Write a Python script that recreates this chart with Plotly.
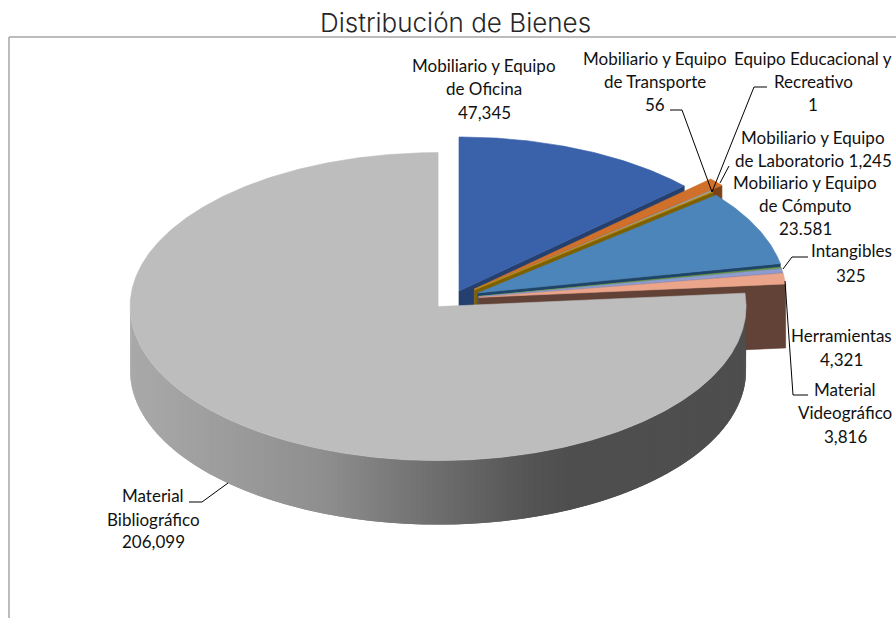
import numpy as np
import plotly.graph_objects as go

# ---- data ----
categories = ["Mobiliario y Equipo de Oficina", "Mobiliario y Equipo de Laboratorio",
              "Mobiliario y Equipo de Transporte", "Equipo Educacional y Recreativo",
              "Mobiliario y Equipo de Cómputo", "Intangibles", "Herramientas",
              "Material Videográfico", "Material Bibliográfico"]
values = [47345, 1245, 56, 1, 23581, 325, 4321, 3816, 206099]
top_colors = ["#3a62aa", "#d0702a", "#a5a5a5", "#bf9000", "#4c85ba", "#6a9a45", "#8e9bd0", "#eba58a", "#bdbdbd"]
face_colors = ["#25406f", "#7f4217", "#7f7f7f", "#7f6000", "#1f4468", "#44682d", "#5f6a96", "#624237", "#7f7f7f"]
explode = [17.5, 29.5, 29.5, 29.5, 28.7, 27, 27, 27, 20.6]
radius_scale = [1, 1.05, 1, 1, 1, 1, 1, 1, 1]

# view-angle calibration of the tilted pie (data angle -> drawn angle)
warp_data = [0, 59.43, 60.99, 61.06, 90.67, 91.08, 96.5, 101.29, 360]
warp_view = [0, 47, 50, 50.6, 79, 79.5, 81, 85, 360]

title = "Distribución de Bienes"
label_lines = [
    ("Mobiliario y Equipo", 484, 65), ("de Oficina", 484, 88), ("47,345", 484, 112),
    ("Mobiliario y Equipo", 655, 58), ("de Transporte", 655, 81), ("56", 655, 104),
    ("Equipo Educacional y", 813, 58), ("Recreativo", 813, 81), ("1", 813, 104),
    ("Mobiliario y Equipo", 813, 137), ("de Laboratorio 1,245", 813, 160),
    ("Mobiliario y Equipo", 805, 182), ("de Cómputo", 805, 205), ("23.581", 805, 228),
    ("Intangibles", 851, 250), ("325", 851, 275),
    ("Herramientas", 841, 335), ("4,321", 841, 359),
    ("Material", 845, 389), ("Videográfico", 845, 412), ("3,816", 845, 436),
    ("Material", 153, 495), ("Bibliográfico", 153, 519), ("206,099", 153, 541),
]
leaders = [
    ([670, 682, 712], [110, 110, 192]),
    ([767, 754, 712], [87, 87, 192]),
    ([729, 720], [166, 183]),
    ([808, 792, 783], [257, 257, 269]),
    ([808, 793, 785], [395, 395, 281]),
    ([189, 202, 228], [502, 502, 483]),
]

# ---- pie geometry ----
CX, CY, RX, RY, DEPTH = 452, 299, 308, 154, 64
cum = np.concatenate([[0], np.cumsum(values)]) / sum(values) * 360
view = np.interp(cum, warp_data, warp_view)


def ell(t, ax, ay, k=1.0):
    r = np.radians(t)
    return ax + k * RX * np.sin(r), ay - k * RY * np.cos(r)


fig = go.Figure()


def poly(xs, ys, color, lw=0.6):
    fig.add_trace(go.Scatter(x=list(xs), y=list(ys), mode="lines", fill="toself", fillcolor=color,
                             line=dict(color=color, width=lw), hoverinfo="skip", showlegend=False))


def wall_color(x):
    v = int(np.interp(x, [130, 324, 405, 528, 569, 750], [170, 143, 119, 85, 79, 78]))
    return f"rgb({v},{v},{v})"


for i in range(len(values)):
    a0, a1 = view[i], view[i + 1]
    mid = np.radians((a0 + a1) / 2)
    ax = CX + explode[i] * np.sin(mid)
    ay = CY - explode[i] * 0.5 * np.cos(mid)
    k = radius_scale[i]
    ts = np.linspace(a0, a1, max(2, int((a1 - a0) * 2) + 2))
    ex, ey = ell(ts, ax, ay, k)
    if i == len(values) - 1:
        # outer wall, shaded; each band overlaps the last so no seams show
        for t0 in np.arange(a0, 270, 1.0):
            seg = np.linspace(t0, min(t0 + 2.0, 270), 5)
            x0, y0 = ell(seg, ax, ay)
            poly(np.concatenate([x0, x0[::-1], x0[:1]]),
                 np.concatenate([y0, y0[::-1] + DEPTH, y0[:1]]),
                 wall_color(x0[1]), lw=0)
    else:
        # radial end face
        xe, ye = ell(a1, ax, ay, k)
        poly([ax, xe, xe, ax, ax], [ay, ye, ye + DEPTH, ay + DEPTH, ay], face_colors[i])
    poly(np.concatenate([[ax], ex, [ax]]), np.concatenate([[ay], ey, [ay]]), top_colors[i])

for lx, ly in leaders:
    fig.add_trace(go.Scatter(x=lx, y=ly, mode="lines", line=dict(color="#000000", width=1),
                             hoverinfo="skip", showlegend=False))

annotations = [dict(x=x, y=y, xref="x", yref="y", text=t, showarrow=False, xanchor="center", yanchor="middle",
                    font=dict(family="Lato", size=17, color="#111111")) for t, x, y in label_lines]
annotations.append(dict(x=455, y=22, xref="x", yref="y", text=title, showarrow=False, xanchor="center",
                        yanchor="middle", font=dict(family="Inter", size=26, weight=300, color="#262626")))

shapes = [
    dict(type="line", xref="x", yref="y", x0=9, x1=9, y0=37, y1=618, line=dict(color="#a6a6a6", width=1.5)),
    dict(type="line", xref="x", yref="y", x0=9, x1=896, y0=37, y1=37, line=dict(color="#a6a6a6", width=1.5)),
]

fig.update_layout(
    width=896, height=618, autosize=False, margin=dict(l=0, r=0, t=0, b=0),
    paper_bgcolor="white", plot_bgcolor="white", showlegend=False,
    xaxis=dict(range=[0, 896], visible=False, fixedrange=True),
    yaxis=dict(range=[618, 0], visible=False, fixedrange=True),
    annotations=annotations, shapes=shapes,
)
fig.write_html("out.html", config={"displayModeBar": False},
               post_script="document.body.style.margin='0';document.body.style.overflow='hidden';")
